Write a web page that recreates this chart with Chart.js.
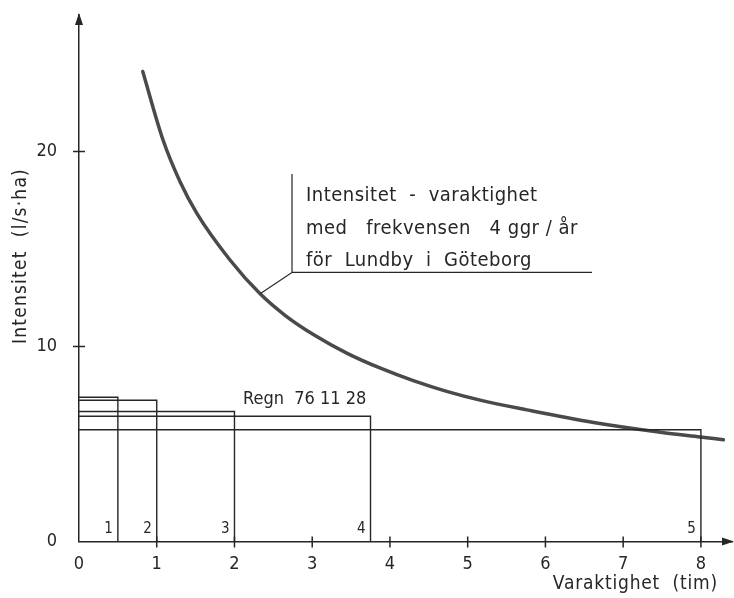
<!DOCTYPE html>
<html>
<head>
<meta charset="utf-8">
<script src="https://cdn.jsdelivr.net/npm/chart.js@4"></script>
<style>
body { margin: 0; background: #fff; }
#wrap { width: 734px; height: 598px; }
</style>
</head>
<body>
<div id="wrap"><canvas id="chart"></canvas></div>
<script>
// intensitet - varaktighet, 4 ggr/år, Lundby
const curveX = [0.82, 1.08, 1.3, 1.52, 1.94, 2.33, 2.65, 3.02, 3.45, 3.87, 4.3, 4.73, 5.16, 5.76, 6.62, 7.48, 7.99, 8.29];
const curveY = [24.1, 20.6, 18.45, 16.8, 14.45, 12.7, 11.6, 10.6, 9.65, 8.9, 8.25, 7.7, 7.25, 6.75, 6.1, 5.6, 5.36, 5.22];

// Regn 76 11 28 : medelintensitet över varaktighet
const rainDur = [0.5, 1, 2, 3.75, 8];
const rainInt = [7.4, 7.24, 6.67, 6.42, 5.73];
const rainNames = ["1", "2", "3", "4", "5"];

const xTicks = [0, 1, 2, 3, 4, 5, 6, 7, 8];
const yTicks = [0, 10, 20];

const ink = "#262626";
const font = "'DejaVu Sans Condensed', 'DejaVu Sans', sans-serif";

const datasets = [];
rainDur.forEach((d, i) => {
	datasets.push({
		data: [{ x: 0, y: rainInt[i] }, { x: d, y: rainInt[i] }, { x: d, y: 0 }],
		borderColor: ink,
		borderWidth: 1.4,
		pointRadius: 0,
		showLine: true,
		tension: 0,
	});
});
datasets.push({
	data: curveX.map((x, i) => ({ x: x, y: curveY[i] })),
	borderColor: "#4a4a4a",
	borderWidth: 3.5,
	borderCapStyle: "round",
	pointRadius: 0,
	showLine: true,
	cubicInterpolationMode: "monotone",
});

// box with leader line for the curve text (data units)
const note = { tipX: 2.33, tipY: 12.7, x: 2.74, y: 13.8, top: 18.85, right: 6.6 };

const extras = {
	id: "extras",
	afterDraw(chart) {
		const ctx = chart.ctx;
		const xs = chart.scales.x, ys = chart.scales.y;
		const a = chart.chartArea;
		ctx.save();
		ctx.strokeStyle = ink;
		ctx.fillStyle = ink;
		ctx.lineWidth = 1.5;

		// arrows
		ctx.beginPath();
		ctx.moveTo(a.left, a.top - 2);
		ctx.lineTo(a.left - 4, a.top + 10);
		ctx.lineTo(a.left + 4, a.top + 10);
		ctx.closePath();
		ctx.fill();
		ctx.beginPath();
		ctx.moveTo(a.right + 2, a.bottom);
		ctx.lineTo(a.right - 10, a.bottom - 4);
		ctx.lineTo(a.right - 10, a.bottom + 4);
		ctx.closePath();
		ctx.fill();

		// tick marks across the axes
		ctx.beginPath();
		xTicks.forEach(v => {
			if (v === 0) return;
			const px = xs.getPixelForValue(v);
			ctx.moveTo(px, a.bottom - 5);
			ctx.lineTo(px, a.bottom + 6);
		});
		yTicks.forEach(v => {
			if (v === 0) return;
			const py = ys.getPixelForValue(v);
			ctx.moveTo(a.left - 6, py);
			ctx.lineTo(a.left + 6, py);
		});
		ctx.stroke();

		// numbers of the rain blocks
		ctx.font = "15px " + font;
		ctx.textAlign = "right";
		ctx.textBaseline = "alphabetic";
		rainDur.forEach((d, i) => {
			ctx.fillText(rainNames[i], xs.getPixelForValue(d) - 5, a.bottom - 9);
		});

		ctx.font = "18px " + font;
		ctx.textAlign = "left";
		ctx.fillText("Regn  76 11 28", 243, 404);

		// annotation box
		const cx = xs.getPixelForValue(note.x), cy = ys.getPixelForValue(note.y);
		ctx.lineWidth = 1.2;
		ctx.beginPath();
		ctx.moveTo(xs.getPixelForValue(note.tipX), ys.getPixelForValue(note.tipY));
		ctx.lineTo(cx, cy);
		ctx.lineTo(cx, ys.getPixelForValue(note.top));
		ctx.moveTo(cx, cy);
		ctx.lineTo(xs.getPixelForValue(note.right), cy);
		ctx.stroke();

		ctx.font = "20px " + font;
		ctx.letterSpacing = "0.5px";
		ctx.fillText("Intensitet  -  varaktighet", cx + 14, 201);
		ctx.fillText("med   frekvensen   4 ggr / år", cx + 14, 234);
		ctx.fillText("för  Lundby  i  Göteborg", cx + 14, 266);

		// axis titles
		ctx.font = "19px " + font;
		ctx.letterSpacing = "0.8px";
		ctx.textAlign = "right";
		ctx.fillText("Varaktighet  (tim)", 718, 589);
		ctx.letterSpacing = "1.2px";
		ctx.translate(26, 256);
		ctx.rotate(-Math.PI / 2);
		ctx.textAlign = "center";
		ctx.fillText("Intensitet  (l/s·ha)", 0, 0);
		ctx.restore();
	},
};

new Chart(document.getElementById("chart"), {
	type: "scatter",
	data: { datasets: datasets },
	options: {
		responsive: true,
		maintainAspectRatio: false,
		animation: false,
		devicePixelRatio: 1,
		layout: { padding: { top: 15, right: 2, left: 0, bottom: 0 } },
		plugins: { legend: { display: false }, tooltip: { enabled: false } },
		scales: {
			x: {
				type: "linear",
				min: 0,
				max: 8.4,
				afterBuildTicks: s => { s.ticks = xTicks.map(v => ({ value: v })); },
				afterFit: s => { s.height = 56.5; s.paddingLeft = 0; s.paddingRight = 0; },
				grid: { display: false, drawTicks: false },
				border: { display: true, color: ink, width: 1.5 },
				ticks: { padding: 12, color: ink, font: { family: font, size: 18 } },
			},
			y: {
				min: 0,
				max: 27,
				afterBuildTicks: s => { s.ticks = yTicks.map(v => ({ value: v })); },
				afterFit: s => { s.width = 79; s.paddingTop = 0; s.paddingBottom = 0; },
				grid: { display: false, drawTicks: false },
				border: { display: true, color: ink, width: 1.5 },
				ticks: { padding: 22, color: ink, font: { family: font, size: 18 } },
			},
		},
	},
	plugins: [extras],
});
</script>
</body>
</html>
